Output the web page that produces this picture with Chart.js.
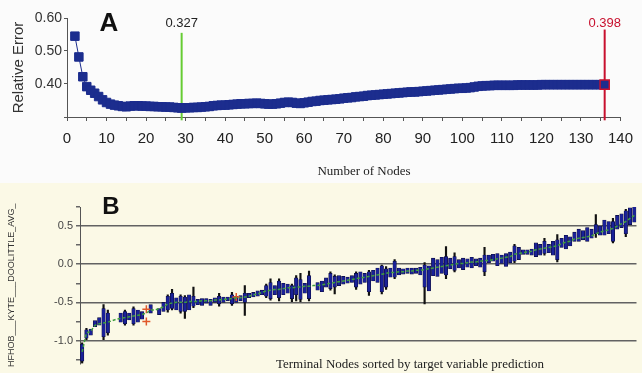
<!DOCTYPE html>
<html>
<head>
<meta charset="utf-8">
<script src="https://cdn.jsdelivr.net/npm/chart.js@4.4.1/dist/chart.umd.min.js"></script>
<style>
  html, body { margin: 0; padding: 0; background: #fbfbfb; }
  #wrapA { position: absolute; left: 0; top: 0; width: 642px; height: 183px; background: #fbfbfb; }
  #wrapB { position: absolute; left: 0; top: 183px; width: 642px; height: 190px; background: #fbf9e6; }
  canvas { display: block; }
</style>
</head>
<body>
<div id="wrapA"><canvas id="chartA" width="642" height="183"></canvas></div>
<div id="wrapB"><canvas id="chartB" width="642" height="190"></canvas></div>
<script>
(() => {
  'use strict'
  // Panel A : relative error by tree size (nodes 2..136)
  const relErr = [
    0.545, 0.482, 0.422, 0.392, 0.381, 0.372, 0.362, 0.352, 0.344,
    0.339, 0.336, 0.334, 0.332, 0.331, 0.333, 0.334, 0.334, 0.333, 0.333,
    0.332, 0.332, 0.331, 0.331, 0.330, 0.330, 0.329, 0.328, 0.327, 0.328,
    0.328, 0.329, 0.329, 0.330, 0.331, 0.332, 0.334, 0.335, 0.336, 0.336,
    0.337, 0.338, 0.339, 0.340, 0.340, 0.341, 0.341, 0.342, 0.341, 0.340,
    0.339, 0.339, 0.340, 0.342, 0.344, 0.345, 0.344, 0.342, 0.341, 0.343,
    0.345, 0.347, 0.348, 0.350, 0.351, 0.352, 0.353, 0.354, 0.355, 0.357,
    0.358, 0.359, 0.361, 0.362, 0.363, 0.365, 0.366, 0.367, 0.368, 0.369,
    0.370, 0.371, 0.372, 0.373, 0.374, 0.375, 0.376, 0.376, 0.377, 0.378,
    0.379, 0.380, 0.381, 0.382, 0.383, 0.384, 0.385, 0.386, 0.387, 0.387,
    0.388, 0.389, 0.391, 0.393, 0.394, 0.395, 0.395, 0.396, 0.396, 0.396,
    0.396, 0.396, 0.396, 0.397, 0.397, 0.397, 0.397, 0.397, 0.397, 0.398,
    0.398, 0.398, 0.398, 0.398, 0.398, 0.398, 0.398, 0.398, 0.398, 0.398,
    0.398, 0.398, 0.398, 0.398, 0.398, 0.398
  ];
  const firstNode = 2;
  const bestNodes = 29;
  const maxNodes = 136;
  const xTicksA = [0, 5, 10, 15, 20, 25, 30, 35, 40, 45, 50, 55, 60, 65, 70, 75, 80, 85, 90, 95, 100, 105, 110, 115, 120, 125, 130, 135, 140];
  const yTicksA = [0.30, 0.35, 0.40, 0.45, 0.50, 0.55, 0.60];
  const yLabelsA = [0.40, 0.50, 0.60];

  // Panel B : terminal nodes sorted by prediction
  const predB = [
    -1.15, -0.90, -0.88, -0.80, -0.78, -0.77, -0.76, -0.74, -0.72, -0.71,
    -0.70, -0.69, -0.68, -0.67, -0.66, -0.64, -0.60, -0.60, -0.58, -0.56,
    -0.52, -0.51, -0.50, -0.50, -0.50, -0.49, -0.49, -0.49, -0.48, -0.48,
    -0.48, -0.47, -0.47, -0.46, -0.46, -0.45, -0.44, -0.44, -0.43, -0.42,
    -0.40, -0.39, -0.37, -0.35, -0.34, -0.33, -0.33, -0.32, -0.31, -0.31,
    -0.30, -0.30, -0.29, -0.29, -0.28, -0.28, -0.27, -0.26, -0.25, -0.24,
    -0.23, -0.22, -0.21, -0.20, -0.19, -0.18, -0.17, -0.16, -0.15, -0.14,
    -0.13, -0.12, -0.11, -0.11, -0.10, -0.10, -0.09, -0.09, -0.08, -0.08,
    -0.07, -0.06, -0.05, -0.04, -0.03, -0.02, -0.01, 0.00, 0.01, 0.01,
    0.02, 0.03, 0.03, 0.04, 0.05, 0.05, 0.06, 0.07, 0.08, 0.09,
    0.10, 0.13, 0.14, 0.15, 0.16, 0.17, 0.19, 0.20, 0.21, 0.22,
    0.23, 0.24, 0.27, 0.29, 0.30, 0.33, 0.34, 0.35, 0.36, 0.37,
    0.40, 0.42, 0.44, 0.45, 0.47, 0.50, 0.53, 0.56, 0.60, 0.64
  ];
  const boxB = [
    [-1.27, -1.05], [-0.97, -0.86], [-0.93, -0.85], [-0.82, -0.74], [-0.80, -0.70],
    [-0.95, -0.58], [-0.90, -0.64], null, null, [-0.76, -0.64],
    [-0.78, -0.62], [-0.73, -0.64], [-0.78, -0.58], [-0.76, -0.60], [-0.72, -0.62],
    null, [-0.64, -0.53], null, [-0.66, -0.58], [-0.62, -0.50],
    [-0.60, -0.42], [-0.58, -0.38], [-0.60, -0.44], [-0.62, -0.42], [-0.62, -0.43],
    [-0.60, -0.40], [-0.55, -0.42], [-0.53, -0.46], [-0.54, -0.45], [-0.51, -0.45],
    [-0.54, -0.46], [-0.50, -0.44], [-0.52, -0.42], [-0.50, -0.43], [-0.48, -0.43],
    [-0.52, -0.40], [-0.50, -0.42], [-0.48, -0.41], [-0.50, -0.38], [-0.44, -0.38],
    [-0.43, -0.37], [-0.42, -0.35], [-0.40, -0.34], [-0.42, -0.28], [-0.45, -0.24],
    [-0.40, -0.28], [-0.44, -0.22], [-0.40, -0.25], [-0.38, -0.26], [-0.45, -0.28],
    [-0.40, -0.18], [-0.46, -0.20], [-0.38, -0.25], [-0.45, -0.15], null,
    [-0.34, -0.24], [-0.36, -0.22], [-0.30, -0.18], [-0.32, -0.12], [-0.30, -0.16],
    [-0.28, -0.15], [-0.26, -0.16], [-0.25, -0.17], [-0.24, -0.15], [-0.30, -0.12],
    [-0.26, -0.10], [-0.24, -0.12], [-0.36, -0.10], [-0.22, -0.08], [-0.24, -0.05],
    [-0.36, -0.02], [-0.30, -0.06], [-0.17, -0.05], [-0.17, 0.04], [-0.14, -0.05],
    [-0.13, -0.06], [-0.12, -0.05], [-0.13, -0.05], [-0.12, -0.05], [-0.14, -0.04],
    [-0.30, 0.00], [-0.35, -0.02], [-0.15, 0.08], [-0.16, 0.06], [-0.12, 0.09],
    [-0.14, 0.10], [-0.06, 0.08], [-0.08, 0.10], [-0.05, 0.06], [-0.07, 0.08],
    [-0.04, 0.07], [-0.05, 0.09], [-0.02, 0.07], [-0.04, 0.08], [-0.10, 0.12],
    [0.02, 0.12], [0.04, 0.13], [-0.02, 0.14], [0.00, 0.12], [-0.03, 0.14],
    [0.02, 0.16], [0.04, 0.24], [0.06, 0.22], [0.13, 0.19], [0.13, 0.19],
    [0.12, 0.20], [0.10, 0.28], [0.12, 0.26], [0.14, 0.30], [0.15, 0.26],
    [0.12, 0.30], [0.06, 0.32], [0.22, 0.34], [0.20, 0.38], [0.24, 0.36],
    [0.30, 0.42], [0.30, 0.46], [0.32, 0.44], [0.30, 0.48], [0.34, 0.46],
    [0.40, 0.52], [0.38, 0.50], [0.38, 0.58], [0.40, 0.56], [0.30, 0.56],
    [0.46, 0.64], [0.48, 0.66], [0.40, 0.70], [0.52, 0.74], [0.55, 0.76]
  ];
  const whiskB = [
    [-1.30, -1.03], [-0.99, -0.84], null, null, null,
    [-0.99, -0.53], [-0.93, -0.60], null, null, null,
    [-0.80, -0.60], null, [-0.80, -0.56], null, null,
    null, null, null, null, null,
    [-0.63, -0.40], [-0.60, -0.33], null, [-0.64, -0.40], [-0.71, -0.41],
    null, [-0.57, -0.30], null, null, null,
    null, null, [-0.55, -0.38], null, null,
    [-0.54, -0.37], null, null, [-0.67, -0.28], null,
    null, null, null, [-0.44, -0.26], [-0.47, -0.19],
    null, [-0.48, -0.19], null, null, [-0.49, -0.26],
    [-0.48, -0.15], [-0.49, -0.12], null, [-0.48, -0.09], null,
    null, null, null, [-0.34, -0.10], [-0.39, -0.14],
    null, null, null, null, [-0.33, -0.10],
    null, null, [-0.41, -0.08], null, null,
    [-0.39, 0.00], [-0.33, -0.03], null, [-0.19, 0.06], null,
    null, null, null, null, null,
    [-0.52, 0.02], null, null, null, null,
    [-0.19, 0.23], null, [-0.10, 0.15], null, null,
    null, null, null, null, [-0.15, 0.22],
    null, null, null, null, null,
    null, [0.02, 0.26], null, null, null,
    null, null, null, [0.12, 0.34], null,
    null, [0.03, 0.39], null, null, null,
    null, null, null, null, null,
    [0.35, 0.65], null, null, null, [0.28, 0.60],
    null, null, [0.36, 0.72], null, null
  ];
  const redCrossIdx = [15, 15, 36];
  const redCrossVal = [-0.59, -0.75, -0.43];
  const yTicksB = [-1.25, -1.0, -0.75, -0.5, -0.25, 0.0, 0.25, 0.5, 0.75];
  const nodeIds = predB.map((v, i) => String(i + 1));

  const navy = '#1c2d8e';
  const lastIdx = relErr.length - 1;
  const narrow = "'Liberation Sans Narrow', 'Liberation Sans', Arial, sans-serif";
  const sans = "'Liberation Sans', Arial, sans-serif";
  const serif = "'Liberation Serif', 'Times New Roman', serif";

  const labelsA = {
    id: 'labelsA',
    afterDraw(chart) {
      const { ctx, scales: { x } } = chart;
      ctx.save();
      ctx.textAlign = 'center';
      ctx.textBaseline = 'middle';
      ctx.fillStyle = '#111';
      ctx.font = 'bold 26px ' + sans;
      ctx.fillText('A', 109, 24);
      ctx.font = '13px ' + narrow;
      ctx.fillStyle = '#222';
      ctx.fillText(relErr[bestNodes - firstNode].toFixed(3), x.getPixelForValue(bestNodes), 23);
      ctx.fillStyle = '#c8102e';
      ctx.fillText(relErr[lastIdx].toFixed(3), x.getPixelForValue(maxNodes), 23);
      ctx.fillStyle = '#222';
      ctx.font = '13px ' + serif;
      ctx.fillText('Number of Nodes', 364, 172);
      ctx.restore();
    }
  };

  new Chart(document.getElementById('chartA'), {
    type: 'line',
    data: {
      datasets: [{
        data: relErr.map((v, i) => ({ x: i + firstNode, y: v })),
        borderColor: navy,
        borderWidth: 1,
        backgroundColor: navy,
        pointStyle: 'rect',
        pointRadius: c => c.dataIndex === lastIdx ? 6.5 : 6,
        pointBorderColor: c => c.dataIndex === lastIdx ? '#c8102e' : navy,
        pointBorderWidth: c => c.dataIndex === lastIdx ? 1.5 : 1,
        order: 0
      }, {
        data: [{ x: bestNodes, y: 0.29 }, { x: bestNodes, y: 0.555 }],
        borderColor: '#66cc33',
        borderWidth: 2,
        pointRadius: 0,
        clip: false,
        order: 2
      }, {
        data: [{ x: maxNodes, y: 0.29 }, { x: maxNodes, y: 0.565 }],
        borderColor: '#c8102e',
        borderWidth: 2,
        pointRadius: 0,
        clip: false,
        order: 2
      }]
    },
    options: {
      responsive: false,
      animation: false,
      layout: { padding: { top: 18, right: 14, left: 0, bottom: 0 } },
      plugins: { legend: { display: false }, tooltip: { enabled: false } },
      scales: {
        x: {
          type: 'linear', min: 0, max: 140,
          afterBuildTicks: s => { s.ticks = xTicksA.map(v => ({ value: v })) },
          afterFit: s => { s.height = 66 },
          ticks: { autoSkip: false, maxRotation: 0, padding: 9, color: '#222', font: { family: narrow, size: 15 },
            callback: v => v % 10 === 0 ? String(v) : '' },
          grid: { drawOnChartArea: false, tickLength: 4, color: '#555' },
          border: { color: '#555', width: 1 }
        },
        y: {
          min: 0.30, max: 0.60,
          afterBuildTicks: s => { s.ticks = yTicksA.map(v => ({ value: v })) },
          afterFit: s => { s.width = 67 },
          ticks: { padding: 2, color: '#333', font: { family: sans, size: 14 },
            callback: v => yLabelsA.some(l => Math.abs(l - v) < 1e-6) ? v.toFixed(2) : '' },
          grid: { drawOnChartArea: false, tickLength: 3, color: '#555' },
          border: { color: '#555', width: 1 },
          title: { display: true, text: 'Relative Error', color: '#333', font: { family: sans, size: 15 }, padding: { top: 10, bottom: 0 } }
        }
      }
    },
    plugins: [labelsA]
  });

  const labelsB = {
    id: 'labelsB',
    afterDraw(chart) {
      const { ctx } = chart;
      ctx.save();
      ctx.textAlign = 'center';
      ctx.textBaseline = 'middle';
      ctx.fillStyle = '#111';
      ctx.font = 'bold 24px ' + sans;
      ctx.fillText('B', 111, 24);
      ctx.fillStyle = '#222';
      ctx.font = '13px ' + serif;
      ctx.fillText('Terminal Nodes sorted by target variable prediction', 410, 182);
      ctx.restore();
    }
  };

  new Chart(document.getElementById('chartB'), {
    type: 'bar',
    data: {
      labels: nodeIds,
      datasets: [{
        type: 'line',
        data: predB,
        borderColor: '#3f9f3f',
        borderWidth: 1.5,
        borderDash: [3, 2],
        pointRadius: 0,
        order: 0
      }, {
        type: 'line',
        data: redCrossIdx.map((k, j) => ({ x: nodeIds[k], y: redCrossVal[j] })),
        showLine: false,
        pointStyle: 'cross',
        pointRadius: 4,
        pointBorderColor: '#e0582a',
        pointBorderWidth: 1.5,
        order: 0
      }, {
        data: boxB,
        backgroundColor: '#1a2198',
        borderColor: '#0b0b3a',
        borderWidth: 0.6,
        borderSkipped: false,
        barThickness: 3.5,
        grouped: false,
        order: 1
      }, {
        data: whiskB,
        backgroundColor: '#111111',
        barThickness: 1.5,
        grouped: false,
        order: 2
      }]
    },
    options: {
      responsive: false,
      animation: false,
      layout: { padding: { top: 24, right: 3, left: 0, bottom: 7 } },
      plugins: { legend: { display: false }, tooltip: { enabled: false } },
      scales: {
        x: { display: false },
        y: {
          min: -1.3, max: 0.75,
          afterBuildTicks: s => { s.ticks = yTicksB.map(v => ({ value: v })) },
          afterFit: s => { s.width = 80 },
          ticks: { padding: 3, color: '#444', font: { family: sans, size: 11 },
            callback: v => v % 0.5 === 0 ? v.toFixed(1) : '' },
          grid: {
            color: c => (c.tick && c.tick.value % 0.5 === 0) ? '#626262' : 'rgba(0,0,0,0)',
            lineWidth: 1.5,
            tickColor: '#666',
            tickLength: 4
          },
          border: { color: '#555', width: 1 },
          title: { display: true, text: 'HFHOB___KYTE___DOOLITTLE_AVG_', color: '#333', font: { family: sans, size: 9 }, padding: { top: 6, bottom: 0 } }
        }
      }
    },
    plugins: [labelsB]
  });
})();
</script>
</body>
</html>
